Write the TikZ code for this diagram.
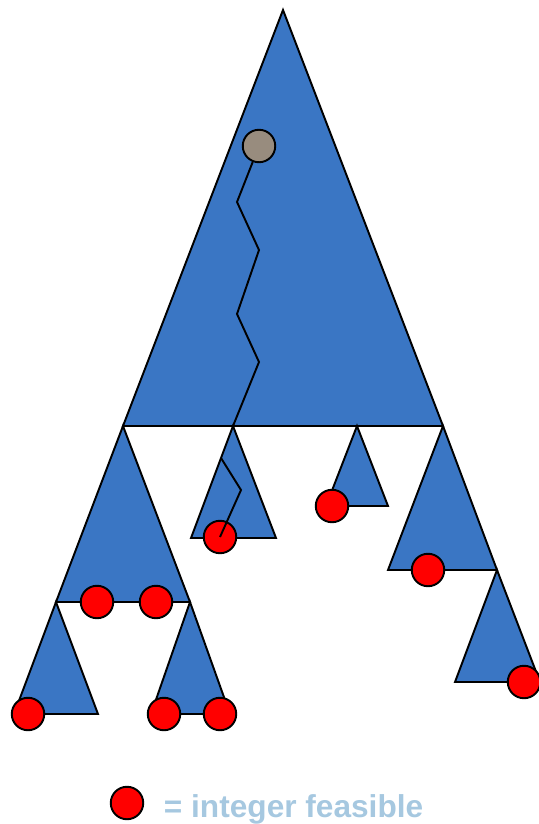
\documentclass[tikz,border=0pt]{standalone}
\usepackage{fontspec}
\setmainfont{Liberation Sans}
\usetikzlibrary{positioning}

\definecolor{treeblue}{RGB}{58,118,196}
\definecolor{rootgray}{RGB}{152,140,126}
\definecolor{legblue}{RGB}{166,200,224}

\begin{document}
\begin{tikzpicture}[
  x=0.02cm, y=-0.02cm,
  line width=1.1pt,
  subtree/.style={fill=treeblue, draw=black, line join=miter},
  intfeas/.style={circle, draw=black, fill=red, minimum size=0.65cm, inner sep=0pt},
  rootnode/.style={circle, draw=black, fill=rootgray, minimum size=0.65cm, inner sep=0pt},
  dive/.style={draw=black, line width=1.1pt},
  legtext/.style={font=\fontsize{18}{20}\selectfont\bfseries, text=legblue, inner sep=0pt}
]
\useasboundingbox (0,0) rectangle (538,824);

%--- Subtrees (triangles) ---
\path[subtree] (283,10)  -- (443,426) -- (123,426) -- cycle;
\path[subtree] (123,426) -- (190,602) -- (56,602)  -- cycle;
\path[subtree] (56,602)  -- (98,714)  -- (14,714)  -- cycle;
\path[subtree] (190,602) -- (230,714) -- (151,714) -- cycle;
\path[subtree] (233,426) -- (276,538) -- (191,538) -- cycle;
\path[subtree] (357,426) -- (388,506) -- (326,506) -- cycle;
\path[subtree] (443,426) -- (497,570) -- (388,570) -- cycle;
\path[subtree] (497,570) -- (540,682) -- (455,682) -- cycle;

%--- Dive path corners ---
\coordinate (d1) at (237,202);
\coordinate (d2) at (259,250);
\coordinate (d3) at (237,314);
\coordinate (d4) at (259,362);
\coordinate (d5) at (233,426);
\coordinate (d6) at (221,458);
\coordinate (d7) at (241,490);

%--- Nodes ---
\node[rootnode] (root) at (259,146) {};

\node[intfeas] (leafA) at (28,714)  {};
\node[intfeas] (leafB) at (97,602)  {};
\node[intfeas] (leafC) at (156,602) {};
\node[intfeas] (leafD) at (164,714) {};
\node[intfeas] (leafE) at (220,714) {};
\node[intfeas] (leafF) at (220,537) {};
\node[intfeas] (leafG) at (332,506) {};
\node[intfeas] (leafH) at (428,570) {};
\node[intfeas] (leafI) at (524,682) {};

%--- Dive from the root ---
\draw[dive] (root) -- (d1) -- (d2) -- (d3) -- (d4) -- (d5);
\draw[dive] (d6) -- (d7) -- (leafF.center);

%--- Legend ---
\node[intfeas] (legdot) at (127,803) {};
\node[legtext, anchor=base west] (legend) at (163,817) {= integer feasible};

\end{tikzpicture}
\end{document}
